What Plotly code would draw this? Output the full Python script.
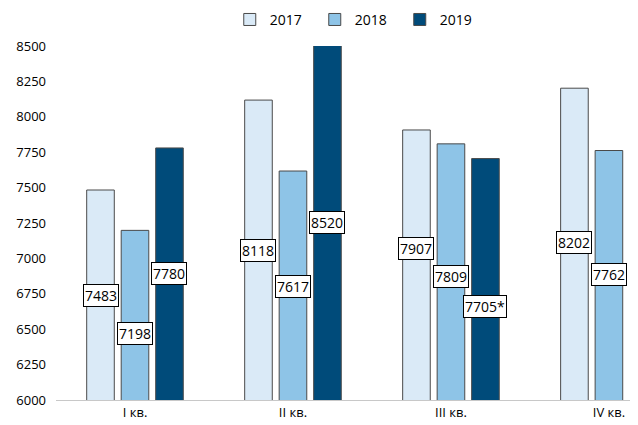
import plotly.graph_objects as go

quarters = ["I кв.", "II кв.", "III кв.", "IV кв."]
years = ["2017", "2018", "2019"]
values_2017 = [7483, 8118, 7907, 8202]
values_2018 = [7198, 7617, 7809, 7762]
values_2019 = [7780, 8520, 7705, None]
label_text_2019 = ["7780", "8520", "7705*", ""]
colors = ["#DAEAF7", "#8EC4E7", "#004B7A"]

# label vertical positions (layout, in axis units)
label_y = [
    [6741, 7059, 7073, 7109],
    [6473, 6805, 6869, 6883],
    [6890, 7257, 6657, None],
]

series = [values_2017, values_2018, values_2019]
texts = [[str(v) for v in values_2017], [str(v) for v in values_2018], label_text_2019]

bargap = 0.345
slot = (1 - bargap) / 3
xs = list(range(len(quarters)))

fig = go.Figure()
for k, (yr, vals) in enumerate(zip(years, series)):
    fig.add_trace(go.Bar(
        x=xs, y=vals, name=yr,
        marker=dict(color=colors[k], line=dict(color="#4a4a4a", width=1)),
    ))

annotations = []
for k in range(3):
    for i in xs:
        if series[k][i] is None:
            continue
        annotations.append(dict(
            x=i + (k - 1) * slot, y=label_y[k][i], xref="x", yref="y",
            text=texts[k][i], showarrow=False,
            font=dict(family="Open Sans, DejaVu Sans, sans-serif", size=14, color="#000"),
            bgcolor="white", bordercolor="#000", borderwidth=1, borderpad=1,
        ))

# body has an 8px margin in the page, so the figure is 8px smaller each way
fig.update_layout(
    width=630, height=417,
    margin=dict(l=48, r=0, t=38, b=25, autoexpand=False),
    barmode="group", bargap=bargap, bargroupgap=0.2,
    plot_bgcolor="white", paper_bgcolor="white",
    font=dict(family="Open Sans, DejaVu Sans, sans-serif", size=13, color="#000"),
    legend=dict(orientation="h", xref="container", yref="paper",
                x=0.352, xanchor="left", y=1.119, yanchor="top",
                font=dict(size=14), itemwidth=30,
                entrywidth=40, entrywidthmode="pixels"),
    annotations=annotations,
    showlegend=True,
)
fig.update_xaxes(range=[-0.5, 3.184], tickvals=xs, ticktext=quarters,
                 showline=True, linecolor="#c8c8c8", linewidth=1,
                 showgrid=False, zeroline=False, ticks="", tickfont=dict(size=13))
fig.update_yaxes(range=[6000, 8500], dtick=250, showgrid=False, zeroline=False,
                 showline=False, ticks="", ticklabelstandoff=9, tickfont=dict(size=13))

fig.write_html("out.html")
